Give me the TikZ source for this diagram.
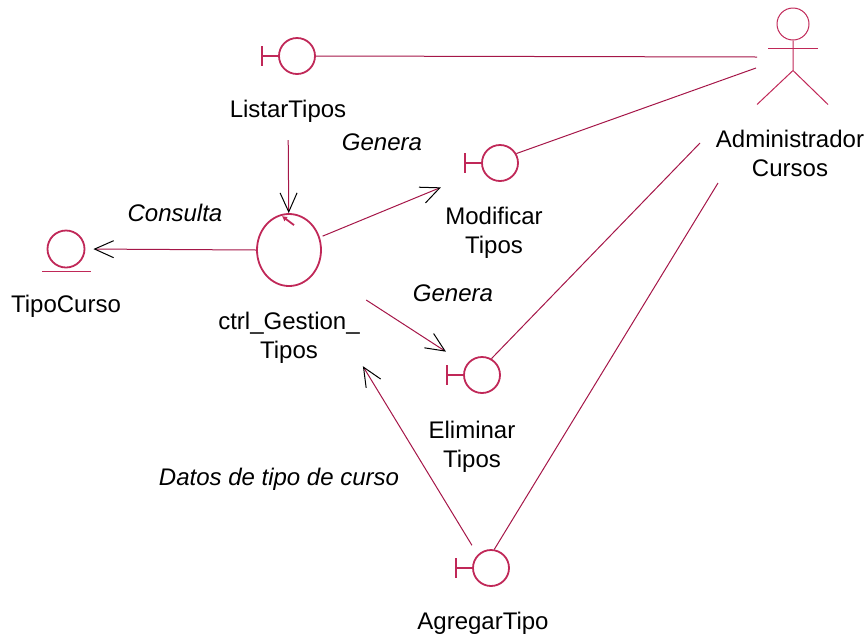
\documentclass[tikz,border=0pt]{standalone}
\usepackage{fontspec}
\setmainfont{Liberation Sans}
\usetikzlibrary{positioning, shapes.geometric, arrows.meta}
\definecolor{umlred}{RGB}{165,22,72}
\definecolor{iconred}{RGB}{192,40,88}

\begin{document}
\begin{tikzpicture}[
    x=1pt, y=-1pt,
    bnd/.style={draw=iconred, circle, line width=1.8pt, minimum size=36pt, inner sep=0pt}, % boundary
    bar/.style={draw=iconred, line width=1.8pt},
    lbl/.style={anchor=base, align=center, inner sep=3pt, font=\fontsize{24}{29}\selectfont},
    msglbl/.style={anchor=base, inner sep=0pt, font=\fontsize{24}{29}\selectfont\itshape},
    link/.style={draw=umlred, line width=1pt},
    msg/.style={draw=umlred, line width=1pt, -{Straight Barb[length=19pt,width=17pt,color=black]}},
    actor/.style={draw=iconred, line width=1pt}
    ]
\useasboundingbox (0,0) rectangle (868,638);

% entity
\node[bnd, minimum size=37pt] (tipo) at (66,249) {};
\draw[bar] (tipo.south) ++(-24,3) -- ++(49,0);
\node[lbl] (tipolbl) at (66,312) {TipoCurso};

% control
\node[draw=iconred, ellipse, line width=1.8pt, minimum width=64pt, minimum height=72pt, inner sep=0pt] (ctrl) at (289,250) {};
\draw[bar, -{Latex[length=5pt,width=6pt]}] (ctrl.north) ++(5,12) -- ++(-12,-9);
\node[lbl] (ctrllbl) at (289,358) {ctrl\_Gestion\_\\Tipos};

% boundaries
\node[bnd] (listar) at (297,56) {};
\draw[bar] (listar.west) -- ++(-16,0) ++(0,-10) -- ++(0,20);
\node[lbl] (listarlbl) at (288,117) {ListarTipos};

\node[bnd] (modif) at (500,163) {};
\draw[bar] (modif.west) -- ++(-16,0) ++(0,-10) -- ++(0,20);
\node[lbl] (modiflbl) at (494,253) {Modificar\\Tipos};

\node[bnd] (elim) at (482,375) {};
\draw[bar] (elim.west) -- ++(-16,0) ++(0,-10) -- ++(0,20);
\node[lbl] (elimlbl) at (472,467) {Eliminar\\Tipos};

\node[bnd] (agregar) at (491,568) {};
\draw[bar] (agregar.west) -- ++(-16,0) ++(0,-10) -- ++(0,20);
\node[lbl] (agrlbl) at (483,629) {AgregarTipo};

% actor
\node[draw=iconred, circle, line width=1pt, minimum size=32pt, inner sep=0pt] (adm) at (793,24) {};
\draw[actor] (adm.south) -- ++(0,30) ++(-36,34) -- ++(36,-34) -- ++(35,34);
\draw[actor] (adm.south) ++(-25,8) -- ++(50,0);
\node[lbl] (admlbl) at (790,176) {Administrador\\Cursos};
\coordinate (adm1) at (757,57);
\coordinate (adm2) at (756,68);
\coordinate (adm3) at (700,143);
\coordinate (adm4) at (718,183);

% links to actor
\draw[link] (listar.east) -- (adm1);
\draw[link] (modif.30) -- (adm2);
\draw[link] (elim.60) -- (adm3);
\draw[link] (agregar.80) -- (adm4);

% messages
\draw[msg, shorten <=15pt] (listarlbl) -- (ctrl);
\draw[msg, shorten >=8pt] (ctrl.west) -- (tipo.east);
\draw[msg, shorten <=3pt, shorten >=45pt] (ctrl) -- (modif);
\draw[msg, shorten <=58pt, shorten >=24pt] (ctrl) -- (elim);
\draw[msg, shorten <=11pt] (agregar.north west) -- (ctrllbl.south east);

\node[msglbl] (gen1) at (382,150) {Genera};
\node[msglbl] (gen2) at (453,301) {Genera};
\node[msglbl] (cons) at (175,221) {Consulta};
\node[msglbl] (datos) at (279,485) {Datos de tipo de curso};
\end{tikzpicture}
\end{document}
